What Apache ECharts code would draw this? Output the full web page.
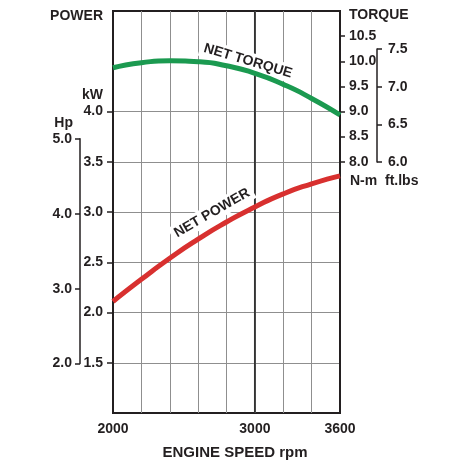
<!DOCTYPE html>
<html>
<head>
<meta charset="utf-8">
<script src="https://cdn.jsdelivr.net/npm/echarts@6.0.0/dist/echarts.min.js"></script>
<style>html,body{margin:0;padding:0;background:#fff}#c{width:470px;height:470px}</style>
</head>
<body>
<div id="c"></div>
<script>
// ---- data ----
var rpm = [2000, 2200, 2400, 2600, 2800, 3000, 3200, 3400, 3600];
var netTorqueNm = [9.87, 9.97, 10.01, 9.99, 9.91, 9.76, 9.54, 9.26, 8.93];
var netPowerKw = [2.11, 2.33, 2.54, 2.73, 2.90, 3.05, 3.18, 3.28, 3.36];
var xLabels = [2000, 3000, 3600];
var kwLabels = [1.5, 2.0, 2.5, 3.0, 3.5, 4.0];
var nmLabels = [8.0, 8.5, 9.0, 9.5, 10.0, 10.5];
var hpLabels = [2.0, 3.0, 4.0, 5.0];
var ftlbLabels = [6.0, 6.5, 7.0, 7.5];
var refRpm = [3000];
var kwRange = [1.0, 5.0];

var FONT = 'Liberation Sans, Arial, Helvetica, sans-serif';
var INK = '#231f20';
var GRIDC = '#8f8f8f';

function pairs(xs, ys) { return xs.map(function (x, i) { return [x, ys[i]]; }); }
function fmt(v) { return Number(v).toFixed(1); }
function fmtInt(v) { return String(Math.round(v)); }
var lbl = { color: INK, fontFamily: FONT, fontWeight: 'bold', fontSize: 14 };

var chart = echarts.init(document.getElementById('c'), null, { renderer: 'canvas' });
chart.setOption({
  animation: false,
  backgroundColor: '#fff',
  grid: [
    { left: 113, width: 227, top: 11, height: 402, show: true, borderColor: INK, borderWidth: 2, backgroundColor: 'transparent' },
    { left: 80, width: 1, top: 138.8, height: 224.8 },
    { left: 377, width: 1, top: 49, height: 113 }
  ],
  xAxis: [
    { type: 'value', gridIndex: 0, min: 2000, max: 3600, interval: 200,
      axisLine: { show: false }, axisTick: { show: false },
      splitLine: { show: true, lineStyle: { color: GRIDC, width: 1 } },
      axisLabel: Object.assign({ customValues: xLabels, margin: 9, formatter: fmtInt }, lbl),
      name: 'ENGINE SPEED rpm', nameLocation: 'middle', nameGap: 32,
      nameTextStyle: { color: INK, fontFamily: FONT, fontWeight: 'bold', fontSize: 15, padding: [0, 0, 0, 17] } },
    { type: 'value', gridIndex: 1, show: false, min: 0, max: 1 },
    { type: 'value', gridIndex: 2, show: false, min: 0, max: 1 }
  ],
  yAxis: [
    { type: 'value', gridIndex: 0, position: 'left', min: kwRange[0], max: kwRange[1], interval: 0.5,
      axisLine: { show: true, lineStyle: { color: INK, width: 2 } },
      axisTick: { show: true, customValues: kwLabels, length: 6, lineStyle: { color: INK, width: 1.5 } },
      splitLine: { show: true, lineStyle: { color: GRIDC, width: 1 } },
      axisLabel: Object.assign({ customValues: kwLabels, margin: 10, formatter: fmt }, lbl) },
    { type: 'value', gridIndex: 0, position: 'right', min: 3, max: 11,
      axisLine: { show: true, lineStyle: { color: INK, width: 2 } },
      axisTick: { show: true, customValues: nmLabels, length: 5, lineStyle: { color: INK, width: 1.5 } },
      splitLine: { show: false },
      axisLabel: Object.assign({ customValues: nmLabels, margin: 9, formatter: fmt }, lbl) },
    { type: 'value', gridIndex: 1, position: 'left', min: 2, max: 5, interval: 1,
      axisLine: { show: true, lineStyle: { color: INK, width: 1.5 } },
      axisTick: { show: true, customValues: hpLabels, length: 5, lineStyle: { color: INK, width: 1.5 } },
      splitLine: { show: false },
      axisLabel: Object.assign({ customValues: hpLabels, margin: 8, formatter: fmt }, lbl) },
    { type: 'value', gridIndex: 2, position: 'right', min: 6, max: 7.5, interval: 0.5,
      axisLine: { show: true, lineStyle: { color: INK, width: 1.5 } },
      axisTick: { show: true, customValues: ftlbLabels, length: 5, lineStyle: { color: INK, width: 1.5 } },
      splitLine: { show: false },
      axisLabel: Object.assign({ customValues: ftlbLabels, margin: 10, formatter: fmt }, lbl) }
  ],
  series: [
    { type: 'line', xAxisIndex: 0, yAxisIndex: 0, z: 1, silent: true, symbol: 'none',
      data: [[refRpm[0], kwRange[0]], [refRpm[0], kwRange[1]]],
      lineStyle: { color: '#333', width: 1.8 } },
    { name: 'NET TORQUE', type: 'line', xAxisIndex: 0, yAxisIndex: 1, z: 3, smooth: 0.6, symbol: 'none',
      data: pairs(rpm, netTorqueNm), lineStyle: { color: '#1b9a50', width: 5 } },
    { name: 'NET POWER', type: 'line', xAxisIndex: 0, yAxisIndex: 0, z: 3, smooth: 0.6, symbol: 'none',
      data: pairs(rpm, netPowerKw), lineStyle: { color: '#d8302f', width: 5 } }
  ],
  graphic: [
    { type: 'text', x: 103, y: 16, z: 5, style: { text: 'POWER', fill: INK, font: 'bold 14px ' + FONT, align: 'right', verticalAlign: 'middle' } },
    { type: 'text', x: 103, y: 95, z: 5, style: { text: 'kW', fill: INK, font: 'bold 14px ' + FONT, align: 'right', verticalAlign: 'middle' } },
    { type: 'text', x: 73, y: 123, z: 5, style: { text: 'Hp', fill: INK, font: 'bold 14px ' + FONT, align: 'right', verticalAlign: 'middle' } },
    { type: 'text', x: 349, y: 15, z: 5, style: { text: 'TORQUE', fill: INK, font: 'bold 14px ' + FONT, align: 'left', verticalAlign: 'middle' } },
    { type: 'text', x: 350, y: 181, z: 5, style: { text: 'N-m', fill: INK, font: 'bold 14px ' + FONT, align: 'left', verticalAlign: 'middle' } },
    { type: 'text', x: 385, y: 181, z: 5, style: { text: 'ft.lbs', fill: INK, font: 'bold 14px ' + FONT, align: 'left', verticalAlign: 'middle' } },
    { type: 'text', x: 248, y: 61, z: 2, rotation: -16.5 * Math.PI / 180,
      style: { text: 'NET TORQUE', fill: INK, font: 'bold 14px ' + FONT, align: 'center', verticalAlign: 'middle', backgroundColor: '#fff', padding: [2, 4] } },
    { type: 'text', x: 212, y: 213, z: 2, rotation: 30 * Math.PI / 180,
      style: { text: 'NET POWER', fill: INK, font: 'bold 14px ' + FONT, align: 'center', verticalAlign: 'middle', backgroundColor: '#fff', padding: [2, 4] } }
  ]
});
</script>
</body>
</html>
